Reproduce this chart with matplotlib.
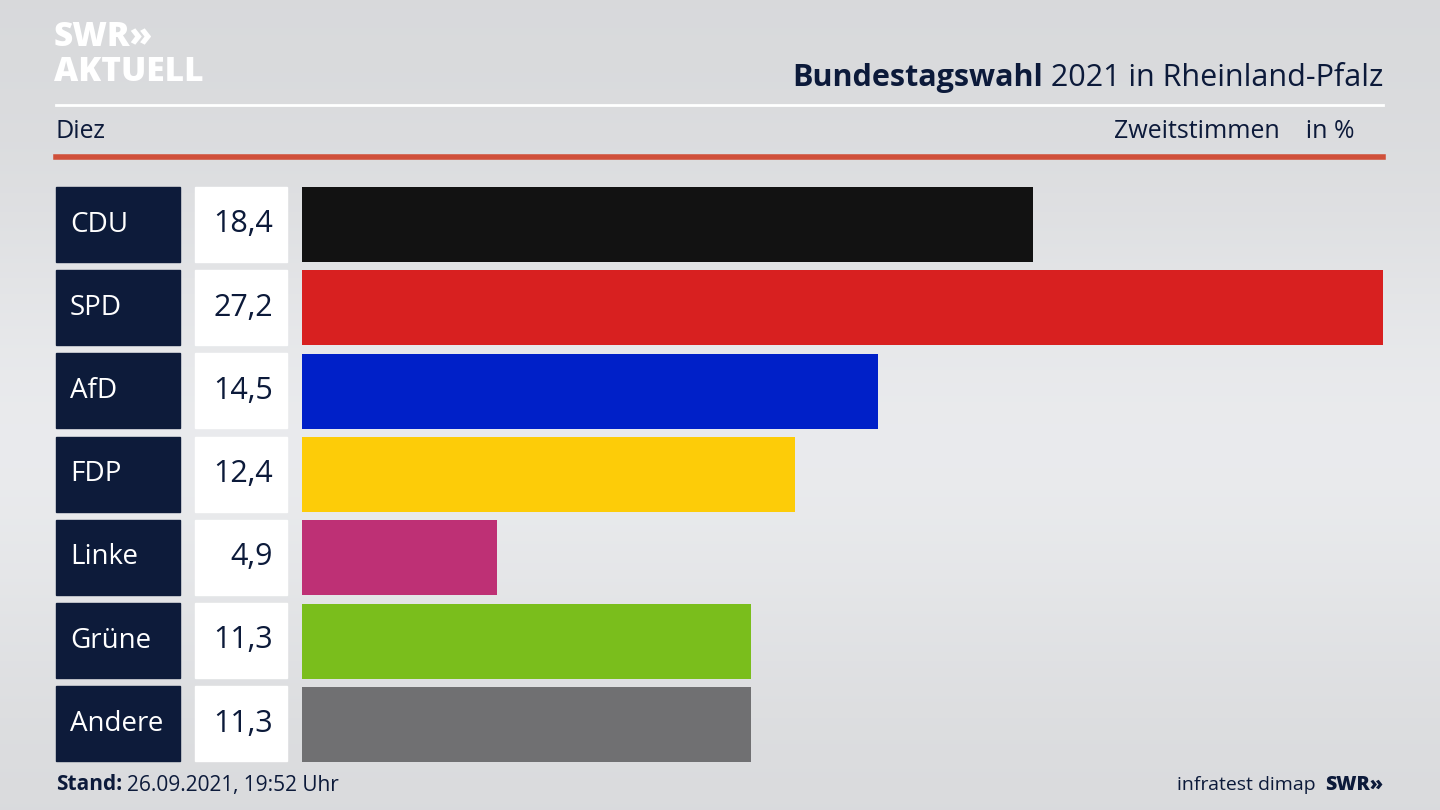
import numpy as np
import matplotlib.pyplot as plt

parties = ["CDU", "SPD", "AfD", "FDP", "Linke", "Grüne", "Andere"]
values = [18.4, 27.2, 14.5, 12.4, 4.9, 11.3, 11.3]
labels = ["18,4", "27,2", "14,5", "12,4", "4,9", "11,3", "11,3"]
colors = ["#121212", "#d82020", "#0020c8", "#fdcc08", "#be3075", "#7abe1c", "#707072"]

NAVY = "#0c1a3a"
plt.rcParams["font.family"] = "Open Sans"

W, H = 1440, 810
fig = plt.figure(figsize=(14.4, 8.1), dpi=100)

# background gradient
bg = fig.add_axes([0, 0, 1, 1])
t = np.linspace(0, 1, 256)
grad = 0.86 + 0.07 * np.exp(-((t - 0.55) / 0.3) ** 2)
bg.imshow(np.dstack([grad * 0.985, grad * 0.99, grad * 1.0]).reshape(256, 1, 3) * np.ones((1, 2, 1)),
          aspect="auto", extent=[0, W, H, 0])
bg.set_xlim(0, W)
bg.set_ylim(H, 0)
bg.axis("off")

# header
bg.text(54, 37, "SWR»", fontsize=24, fontweight="heavy", color="white", va="center")
bg.text(54, 72, "AKTUELL", fontsize=24, fontweight="heavy", color="white", va="center")
rest = bg.text(1383, 78, " 2021 in Rheinland-Pfalz", fontsize=22, color=NAVY, ha="right", va="center")
fig.canvas.draw()
bb = rest.get_window_extent()
bg.text(bb.x0, 78, "Bundestagswahl", fontsize=22, fontweight="bold", color=NAVY, ha="right", va="center")
bg.plot([56, 1383], [105, 105], color="white", lw=2)
bg.text(56, 132, "Diez", fontsize=18, color=NAVY, va="center")
bg.text(1354, 132, "Zweitstimmen    in %", fontsize=18, color=NAVY, ha="right", va="center")
bg.plot([56, 1383], [157, 157], color="#d0503a", lw=4)

# rows
pitch = 83.2
for i, (p, lab) in enumerate(zip(parties, labels)):
    yc = 187 + 37.5 + i * pitch
    bg.add_patch(plt.Rectangle((56, yc - 37.5), 124, 75, color="#0d1b3a"))
    bg.add_patch(plt.Rectangle((195, yc - 37.5), 92, 75, color="white"))
    bg.text(70, yc, p, fontsize=20, color="white", va="center")
    bg.text(273, yc, lab, fontsize=22, color=NAVY, va="center", ha="right")

# bars
ax = fig.add_axes([302 / W, (H - 762) / H, (1383 - 302) / W, 575 / H])
ax.barh(range(len(values)), values, height=75 / pitch, color=colors)
ax.set_xlim(0, max(values))
ax.set_ylim(6 + 0.45, -0.45)
ax.axis("off")

# footer
st = bg.text(56, 785, "Stand:", fontsize=15, fontweight="bold", color=NAVY, va="center")
fig.canvas.draw()
bg.text(st.get_window_extent().x1 + 5, 785, "26.09.2021, 19:52 Uhr", fontsize=15, color=NAVY, va="center")
bg.text(1316, 785, "infratest dimap", fontsize=14, color=NAVY, ha="right", va="center")
bg.text(1383, 785, "SWR»", fontsize=14, fontweight="heavy", color=NAVY, ha="right", va="center")

fig.savefig("out.png", dpi=100)
